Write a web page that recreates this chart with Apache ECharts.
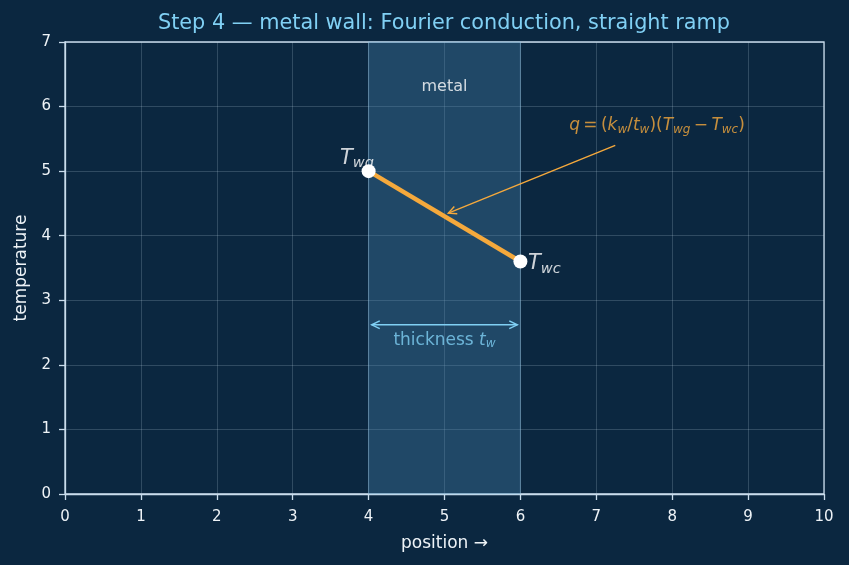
<!DOCTYPE html>
<html><head><meta charset="utf-8">
<script src="https://cdn.jsdelivr.net/npm/echarts@6/dist/echarts.min.js"></script>
<style>html,body{margin:0;padding:0;background:#0b2740;}#c{width:849px;height:565px;}</style>
</head><body><div id="c"></div>
<script>
const titleText = 'Step 4 — metal wall: Fourier conduction, straight ramp';
const xTicks = [0,1,2,3,4,5,6,7,8,9,10];
const yTicks = [0,1,2,3,4,5,6,7];
const wallBand = [4, 6];
const rampX = [4, 6];
const rampY = [5.0, 3.6];
const qArrow = [7.25, 5.40, 5.05, 4.35];
const thickArrow = [4.04, 2.62, 5.96, 2.62];
const metalLabel = [5, 6.3];
const qLabel = [7.8, 5.7];
const thickLabel = [5, 2.38];
const twgLabel = [4.07, 5.2];
const twcLabel = [6.1, 3.57];

const BG = '#0b2740', AX = '#c9dcec', TXT = '#eef3f7', ORANGE = '#f5a93c', CYAN = '#80d0f4';
const chart = echarts.init(document.getElementById('c'), null, {renderer:'canvas'});

function arrowItem(params, api, color, both) {
  const p0 = api.coord([api.value(0), api.value(1)]);
  const p1 = api.coord([api.value(2), api.value(3)]);
  const ang = Math.atan2(p1[1]-p0[1], p1[0]-p0[0]);
  const L = 9, a = 0.45;
  function head(p, an) {
    return {type:'polyline', shape:{points:[
      [p[0]-L*Math.cos(an-a), p[1]-L*Math.sin(an-a)], p,
      [p[0]-L*Math.cos(an+a), p[1]-L*Math.sin(an+a)]]},
      style:{stroke:color, lineWidth:1.4, fill:null}};
  }
  const ch = [{type:'line', shape:{x1:p0[0],y1:p0[1],x2:p1[0],y2:p1[1]}, style:{stroke:color, lineWidth:1.4}}, head(p1, ang)];
  if (both) ch.push(head(p0, ang+Math.PI));
  return {type:'group', children:ch};
}

const it = {fontFamily:'DejaVu Sans', fontStyle:'italic'};
const tRich = {T:{fontSize:21, color:'#fff', ...it}, s:{fontSize:14.5, color:'#fff', ...it, padding:[11,0,0,0]}};
chart.setOption({
  backgroundColor: BG,
  animation:false,
  title:{text:titleText, left:439, textAlign:'center', top:8,
    textStyle:{color:CYAN, fontFamily:'DejaVu Sans', fontWeight:'normal', fontSize:20.8}},
  grid:{left:65, right:25, top:42, bottom:71, show:true, borderColor:AX, borderWidth:1.3, backgroundColor:'transparent'},
  xAxis:{type:'value', min:0, max:10, interval:1, name:'position →', nameLocation:'middle', nameGap:41,
    nameTextStyle:{color:TXT, fontFamily:'DejaVu Sans', fontSize:17},
    axisLine:{show:true, lineStyle:{color:AX, width:1.3}}, axisTick:{show:true, length:6, lineStyle:{color:AX, width:1.3}},
    axisLabel:{color:TXT, fontFamily:'DejaVu Sans', fontSize:15, margin:16, formatter:v=>xTicks.includes(v)?String(v):''},
    splitLine:{show:true, lineStyle:{color:'rgba(200,220,235,0.2)', width:1}}},
  yAxis:{type:'value', min:0, max:7, interval:1, name:'temperature', nameLocation:'middle', nameGap:35,
    nameTextStyle:{color:TXT, fontFamily:'DejaVu Sans', fontSize:17},
    axisLine:{show:true, lineStyle:{color:AX, width:1.3}}, axisTick:{show:true, length:6, lineStyle:{color:AX, width:1.3}},
    axisLabel:{color:TXT, fontFamily:'DejaVu Sans', fontSize:15, margin:14, formatter:v=>yTicks.includes(v)?String(v):''},
    splitLine:{show:true, lineStyle:{color:'rgba(200,220,235,0.2)', width:1}}},
  series:[
    {type:'line', data:[], markArea:{silent:true,
      itemStyle:{color:'rgba(70,130,170,0.37)', borderColor:'rgba(150,200,230,0.45)', borderWidth:1},
      data:[[{xAxis:wallBand[0]},{xAxis:wallBand[1]}]]}},
    {type:'line', data:rampX.map((x,i)=>[x,rampY[i]]), symbol:'circle', symbolSize:14,
      lineStyle:{color:ORANGE, width:4.5}, itemStyle:{color:'#ffffff', borderWidth:0}, z:5},
    {type:'scatter', symbolSize:0, z:6, data:[
      {value:twgLabel, label:{formatter:'{T|T}{s|wg}', align:'right', rich:tRich}},
      {value:twcLabel, label:{formatter:'{T|T}{s|wc}', align:'left', rich:tRich}}
    ], label:{show:true, position:'inside', verticalAlign:'middle'}},
    {type:'custom', renderItem:(p,api)=>arrowItem(p,api,ORANGE,false), data:[qArrow], encode:{x:[0,2], y:[1,3]}, z:4},
    {type:'custom', renderItem:(p,api)=>arrowItem(p,api,CYAN,true), data:[thickArrow], encode:{x:[0,2], y:[1,3]}, z:4},
    {type:'scatter', symbolSize:0, z:6, data:[
      {value:metalLabel, label:{formatter:'metal', color:'#ffffff', fontSize:16, fontFamily:'DejaVu Sans'}},
      {value:qLabel, label:{formatter:'{i|q} {n|=} {n|(}{i|k}{s|w}{n|/}{i|t}{s|w}{n|)(}{i|T}{s|wg} {n|−} {i|T}{s|wc}{n|)}',
        rich:{i:{fontSize:17,color:ORANGE,...it}, n:{fontSize:17,color:ORANGE,fontFamily:'DejaVu Sans'},
              s:{fontSize:12,color:ORANGE,...it,padding:[8,0,0,0]}}}},
      {value:thickLabel, label:{formatter:'{n|thickness }{i|t}{s|w}',
        rich:{i:{fontSize:17,color:CYAN,...it}, n:{fontSize:17,color:CYAN,fontFamily:'DejaVu Sans'},
              s:{fontSize:12,color:CYAN,...it,padding:[8,0,0,0]}}}}
    ], label:{show:true, position:'inside'}}
  ]
});
</script></body></html>
